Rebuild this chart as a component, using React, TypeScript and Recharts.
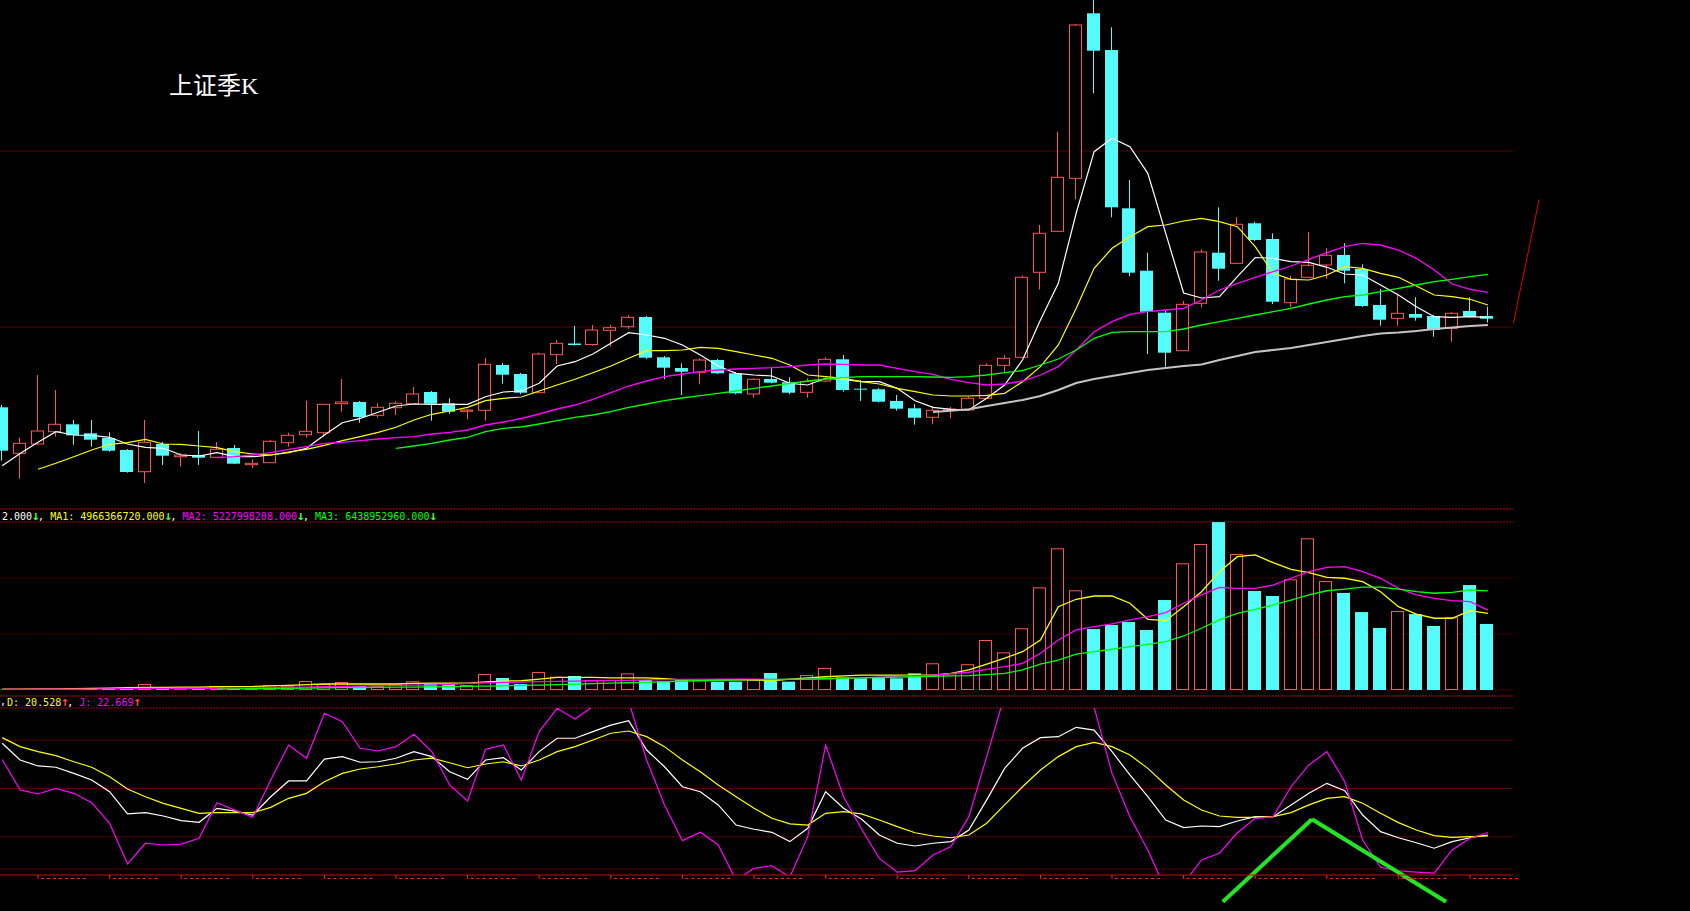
import React from 'react';
import { ComposedChart, Bar, Line, XAxis, YAxis, ReferenceLine, CartesianGrid } from 'recharts';

// quarterly candles, index points
const open = [
  957, 497, 590, 713, 787, 697, 650, 530, 313, 590,
  463, 480, 457, 550, 383, 403, 603, 683, 703, 993,
  1010, 877, 953, 993, 1110, 997, 917, 927, 1380, 1290,
  1103, 1483, 1595, 1585, 1727, 1763, 1860, 1457, 1350, 1307,
  1430, 1297, 1090, 1240, 1207, 1107, 1220, 1437, 1143, 1137,
  1020, 947, 857, 927, 930, 1047, 1377, 1457, 2307, 2717,
  3247, 4897, 4530, 2947, 2323, 1903, 1523, 1997, 2503, 2397,
  2797, 2640, 2003, 2257, 2380, 2480, 2340, 1980, 1847, 1890,
  1870, 1747, 1920, 1870,
];
const high = [
  980, 653, 1280, 1130, 830, 830, 707, 540, 830, 610,
  497, 720, 610, 580, 437, 630, 703, 1023, 990, 1240,
  1020, 997, 1020, 1160, 1120, 1047, 940, 1450, 1400, 1300,
  1503, 1630, 1770, 1780, 1780, 1880, 1870, 1470, 1397, 1447,
  1440, 1310, 1247, 1357, 1257, 1247, 1457, 1480, 1230, 1150,
  1080, 990, 970, 960, 1063, 1397, 1480, 2273, 2780, 3713,
  4790, 5030, 4757, 3230, 2503, 1920, 2020, 2537, 2957, 2857,
  2813, 2697, 2273, 2710, 2547, 2597, 2387, 2140, 2097, 2057,
  1880, 1910, 2057, 1963,
];
const low = [
  423, 243, 580, 663, 583, 563, 513, 303, 200, 380,
  363, 380, 450, 390, 350, 400, 563, 653, 663, 913,
  803, 853, 880, 990, 823, 893, 837, 823, 1193, 1087,
  1100, 1390, 1575, 1573, 1565, 1740, 1440, 1237, 1080, 1187,
  1290, 1087, 1053, 1197, 1087, 1053, 1210, 1113, 1020, 1005,
  923, 783, 787, 847, 925, 1040, 1297, 1450, 2137, 2710,
  3037, 4097, 2857, 2267, 1490, 1363, 1520, 1957, 2223, 2390,
  2620, 1990, 1957, 2250, 2243, 2197, 1960, 1773, 1773, 1823,
  1663, 1613, 1855, 1803,
];
const close = [
  523, 597, 720, 787, 677, 633, 523, 310, 607, 473,
  480, 453, 537, 393, 397, 617, 677, 717, 987, 1010,
  860, 957, 997, 1090, 993, 913, 930, 1387, 1283, 1103,
  1490, 1597, 1580, 1730, 1753, 1857, 1453, 1353, 1313, 1430,
  1297, 1097, 1237, 1203, 1103, 1213, 1437, 1130, 1133, 1013,
  943, 853, 927, 940, 1047, 1377, 1447, 2257, 2697, 3257,
  4780, 4523, 2957, 2303, 1913, 1503, 1987, 2510, 2343, 2787,
  2630, 2013, 2240, 2377, 2477, 2323, 1970, 1833, 1897, 1853,
  1730, 1897, 1863, 1843,
];

const lead = (n: number, values: number[]) => [...Array(n).fill(null), ...values];

const ma5 = [
  373, 495, 607, 713, 680, 677, 657, 590, 557, 547,
  480, 470, 503, 463, 463, 480, 503, 547, 680, 803,
  847, 907, 970, 990, 987, 987, 987, 1063, 1110, 1120,
  1197, 1370, 1413, 1490, 1597, 1703, 1680, 1647, 1580, 1480,
  1370, 1297, 1280, 1270, 1197, 1180, 1247, 1237, 1213, 1213,
  1147, 1023, 957, 937, 930, 1047, 1180, 1430, 1830, 2197,
  2900, 3513, 3647, 3563, 3297, 2697, 2100, 2050, 2063, 2263,
  2455, 2447, 2413, 2407, 2357, 2290, 2280, 2180, 2080, 1963,
  1863, 1857, 1863, 1857,
];
const ma10 = lead(2, [
  337, 397, 463, 530, 587, 603, 637, 590,
  587, 570, 553, 513, 490, 480, 510, 537, 577, 623,
  663, 707, 757, 830, 887, 920, 957, 1023, 1047, 1060,
  1120, 1180, 1237, 1303, 1370, 1447, 1523, 1523, 1530, 1557,
  1547, 1513, 1480, 1447, 1380, 1280, 1263, 1247, 1213, 1190,
  1147, 1113, 1080, 1070, 1070, 1077, 1097, 1213, 1363, 1580,
  1947, 2347, 2547, 2663, 2763, 2780, 2820, 2847, 2813, 2763,
  2563, 2297, 2237, 2230, 2280, 2363, 2347, 2297, 2257, 2170,
  2080, 2063, 2037, 1980,
]);
const ma20 = lead(12, [
  453, 463, 480, 503, 537, 563, 597, 607,
  623, 640, 653, 663, 690, 707, 730, 780, 810, 845,
  890, 940, 980, 1037, 1103, 1170, 1220, 1263, 1290, 1313,
  1330, 1340, 1347, 1353, 1363, 1380, 1390, 1387, 1380, 1380,
  1347, 1313, 1287, 1237, 1203, 1180, 1190, 1220, 1280, 1363,
  1530, 1713, 1813, 1887, 1913, 1930, 1947, 2030, 2130, 2197,
  2257, 2313, 2370, 2437, 2503, 2563, 2597, 2580, 2530, 2447,
  2330, 2190, 2137, 2107,
]);
const ma30 = lead(22, [
  547, 570, 597, 630, 657, 713, 747, 760,
  790, 823, 857, 880, 913, 957, 990, 1023, 1050, 1073,
  1097, 1120, 1147, 1170, 1197, 1220, 1240, 1253, 1263, 1263,
  1263, 1263, 1260, 1257, 1263, 1280, 1303, 1325, 1380, 1440,
  1530, 1647, 1707, 1713, 1713, 1713, 1740, 1780, 1813, 1847,
  1880, 1913, 1947, 1990, 2030, 2063, 2080, 2113, 2147, 2180,
  2213, 2237, 2263, 2287,
]);
const ma60 = lead(52, [
  910, 923, 937, 970, 1000, 1030, 1070, 1130,
  1200, 1240, 1270, 1300, 1330, 1350, 1370, 1385, 1430, 1470,
  1510, 1530, 1550, 1580, 1610, 1640, 1670, 1695, 1705, 1720,
  1740, 1755, 1770, 1780,
]);

// volume, 亿股
const volume = [
  0.2, 0.3, 0.3, 0.2, 0.4, 1.1, 1.1, 1.1, 3.9, 0.5,
  0.5, 0.5, 2.6, 0.6, 0.6, 3.2, 2.8, 5.8, 3.9, 5.2,
  2.6, 2.8, 3.9, 5.6, 3.9, 3.9, 3.2, 10.4, 7.8, 3.9,
  11.7, 8.6, 9.1, 6.5, 6.5, 10.8, 6.5, 5.6, 6.5, 6.5,
  5.4, 5.4, 6.5, 11.0, 5.4, 9.7, 14.3, 8.2, 7.6, 8.0,
  7.6, 10.8, 17.3, 10.8, 16.7, 32.4, 24.4, 40.0, 66.5, 91.8,
  64.6, 39.5, 42.1, 44.1, 38.9, 58.3, 82.1, 94.6, 108.8, 88.1,
  64.2, 60.9, 71.7, 98.3, 70.6, 62.9, 50.5, 40.2, 51.2, 49.2,
  41.5, 47.1, 68.0, 42.8,
];
const volMa1 = [
  0.6, 0.6, 0.7, 0.7, 0.8, 1.0, 1.2, 1.5, 1.7, 1.7,
  1.8, 1.9, 2.1, 2.2, 2.3, 2.7, 3.0, 3.5, 3.9, 3.9,
  3.9, 3.9, 3.9, 4.3, 4.4, 4.5, 4.5, 5.2, 5.8, 6.0,
  7.1, 8.2, 8.2, 8.2, 7.8, 7.8, 7.8, 7.3, 6.5, 6.5,
  6.5, 6.5, 6.5, 6.0, 7.0, 7.9, 8.6, 9.2, 9.7, 9.7,
  9.7, 9.7, 9.7, 10.8, 13.0, 16.8, 20.7, 24.8, 32.4, 54.0,
  58.8, 60.9, 60.9, 56.2, 45.8, 44.9, 54.0, 63.7, 76.7, 86.4,
  87.5, 82.5, 78.2, 76.0, 73.0, 72.4, 70.2, 63.7, 54.0, 49.2,
  46.5, 46.5, 51.4, 49.7,
];
const volMa2 = [
  0.4, 0.4, 0.5, 0.5, 0.5, 0.6, 0.7, 0.8, 1.0, 1.0,
  1.0, 1.1, 1.1, 1.2, 1.3, 1.5, 1.7, 1.9, 2.1, 2.3,
  2.5, 2.8, 3.0, 3.1, 3.2, 3.6, 4.3, 4.6, 4.9, 5.1,
  5.4, 5.6, 5.8, 6.0, 6.2, 6.3, 6.5, 6.7, 6.8, 6.9,
  7.1, 7.0, 7.0, 6.9, 6.9, 6.9, 7.2, 7.6, 7.8, 8.3,
  8.8, 9.3, 9.7, 10.6, 11.5, 13.3, 15.1, 17.3, 23.8, 32.4,
  38.9, 41.0, 42.8, 45.4, 47.5, 50.1, 56.2, 61.6, 66.5, 65.9,
  65.9, 68.0, 72.4, 76.7, 79.5, 79.9, 76.7, 72.4, 65.9, 61.6,
  59.4, 57.9, 57.2, 51.8,
];
const volMa3 = lead(12, [
  0.6, 0.7, 0.8, 0.9, 1.1, 1.2, 1.4, 1.5, 1.6, 1.7,
  1.8, 1.9, 2.0, 2.1, 2.3, 2.5, 2.7, 3.0, 3.2, 3.5,
  3.8, 4.1, 4.4, 4.7, 5.0, 5.4, 5.7, 6.0, 6.3, 6.5,
  6.7, 6.8, 6.9, 7.1, 7.3, 7.6, 7.9, 8.1, 8.4, 8.6,
  8.9, 9.1, 9.3, 10.0, 10.8, 13.0, 16.8, 19.4, 23.3, 24.8,
  26.4, 28.1, 29.6, 31.3, 35.0, 40.0, 45.4, 49.7, 52.3, 55.1,
  58.3, 61.6, 64.3, 65.3, 66.6, 66.6, 65.3, 63.7, 62.7, 63.3,
  64.8, 64.2,
]);

const kLine = [
  78.1, 67.7, 64.0, 63.2, 59.4, 55.3, 48.0, 34.2, 35.0, 32.9,
  30.0, 29.0, 37.7, 36.0, 33.5, 44.9, 54.7, 54.7, 68.3, 69.8,
  66.3, 66.6, 68.8, 72.9, 69.8, 60.4, 55.7, 67.7, 69.1, 61.5,
  72.9, 81.2, 81.2, 85.3, 89.4, 92.1, 73.9, 63.5, 51.1, 48.0,
  39.8, 27.3, 24.7, 22.8, 17.0, 25.3, 48.0, 37.7, 31.0, 21.1,
  16.0, 14.3, 16.0, 17.0, 24.2, 42.9, 62.5, 75.0, 81.6, 82.2,
  88.0, 86.3, 72.9, 58.4, 44.9, 30.4, 25.7, 26.7, 26.3, 29.8,
  32.5, 32.5, 39.8, 47.0, 53.2, 48.6, 33.5, 23.2, 19.4, 16.3,
  12.9, 17.0, 19.4, 21.1,
];
const dLine = [
  81.6, 76.0, 72.9, 70.4, 66.6, 63.2, 57.3, 49.7, 44.9, 40.8,
  37.7, 34.6, 35.0, 35.0, 35.0, 38.3, 43.9, 47.0, 54.2, 59.4,
  62.1, 63.5, 65.2, 67.7, 68.8, 66.0, 62.9, 65.2, 66.6, 64.0,
  67.7, 72.9, 76.0, 80.1, 84.3, 85.7, 82.2, 76.0, 67.7, 60.4,
  52.2, 44.9, 37.7, 31.5, 28.0, 27.3, 34.6, 35.6, 34.2, 30.4,
  26.3, 22.5, 20.5, 19.4, 21.1, 28.4, 39.8, 51.1, 61.5, 69.8,
  76.0, 78.7, 76.0, 70.8, 62.5, 52.2, 42.9, 36.6, 32.9, 32.1,
  32.1, 32.5, 35.0, 39.8, 43.9, 44.9, 40.8, 34.6, 28.8, 24.2,
  20.7, 19.7, 20.1, 20.5,
];
const jLine = [
  68, 49.1, 46.6, 50.1, 47.0, 41.2, 28.4, 3.1, 16.0, 14.9,
  15.5, 19.1, 41.2, 36.6, 32.1, 55.3, 77.0, 68.8, 96.7, 91.5,
  75.0, 73.3, 76.0, 83.7, 72.9, 52.2, 42.2, 74.3, 77.0, 55.3,
  85.3, 99.8, 93.2, 101, 106, 104, 67.7, 39.8, 17.6, 22.8,
  14.9, -7, 0.4, 2.0, -5, 20.1, 77.0, 44.9, 25, 6.6,
  -2, -1, 8.7, 13.9, 32.5, 69.8, 108, 123, 122, 107,
  112, 100.5, 59.4, 32.5, 11.8, -13, -9, 5.6, 9.8, 22.5,
  31.5, 32.5, 51.1, 64.6, 72.9, 54.2, 18.0, 1.1, -1.1, -2.0,
  -2.5, 11.8, 19.1, 22.7,
];

const yearTicks = [2, 6, 10, 14, 18, 22, 26, 30, 34, 38, 42, 46, 50, 54, 58, 62, 66, 70, 74, 78, 82];

const rows = open.map((o, i) => ({
  i,
  open: o,
  high: high[i],
  low: low[i],
  close: close[i],
  ma5: ma5[i],
  ma10: ma10[i],
  ma20: ma20[i],
  ma30: ma30[i],
  ma60: ma60[i],
  vol: volume[i],
  vma1: volMa1[i],
  vma2: volMa2[i],
  vma3: volMa3[i],
  k: kLine[i],
  d: dLine[i],
  j: jLine[i],
}));

const RED = '#ff5454';
const CYAN = '#54fcfc';
const GRID = '#5a0000';
const SEP = '#d00000';
const X_DOMAIN: [number, number] = [-0.123, 84.4];
const W = 1545;
const RIGHT = 32;

const Candle = (props: any) => {
  const { x, y, width, height, payload } = props;
  if (x == null || !payload) return null;
  const { open: o, close: c, high: h, low: l } = payload;
  const top = Math.min(y, y + height);
  const span = Math.abs(height);
  const toY = (v: number) => (h === l ? top : top + ((h - v) / (h - l)) * span);
  const up = c > o;
  const cx = Math.floor(x + width / 2) + 0.5;
  const bodyTop = Math.min(toY(o), toY(c));
  const bodyH = Math.max(Math.abs(toY(o) - toY(c)), 1);
  if (up) {
    return (
      <g>
        <line x1={cx} x2={cx} y1={top} y2={bodyTop} stroke={RED} />
        <line x1={cx} x2={cx} y1={bodyTop + bodyH} y2={top + span} stroke={RED} />
        <rect x={Math.floor(x) + 0.5} y={bodyTop} width={Math.round(width) - 1} height={bodyH} fill="#000" stroke={RED} />
      </g>
    );
  }
  return (
    <g>
      <line x1={cx} x2={cx} y1={top} y2={top + span} stroke={CYAN} />
      <rect x={Math.floor(x)} y={bodyTop} width={Math.round(width)} height={bodyH} fill={CYAN} />
    </g>
  );
};

const VolBar = (props: any) => {
  const { x, y, width, height, payload } = props;
  if (x == null || !payload) return null;
  if (payload.close > payload.open) {
    return <rect x={Math.floor(x) + 0.5} y={y + 0.5} width={Math.round(width) - 1} height={Math.max(height - 1, 0.5)} fill="#000" stroke={RED} />;
  }
  return <rect x={Math.floor(x)} y={y} width={Math.round(width)} height={height} fill={CYAN} />;
};

const AxisTick = (props: any) => {
  const { x, y } = props;
  return (
    <g>
      <line x1={x} x2={x} y1={y} y2={y + 4} stroke="#ff2020" />
      <line x1={x + 3} x2={x + 50} y1={y + 3.5} y2={y + 3.5} stroke="#ff2020" strokeDasharray="3 3" />
    </g>
  );
};

const mono: React.CSSProperties = {
  position: 'absolute',
  fontFamily: '"DejaVu Sans Mono", monospace',
  fontSize: 10,
  lineHeight: '12px',
  whiteSpace: 'pre',
};

// arrows in the header are drawn taller than the digits
const Arrow = ({ ch, color }: { ch: string; color: string }) => (
  <span style={{ color, display: 'inline-block', width: 6, fontSize: 13, lineHeight: '12px', textAlign: 'center', fontWeight: 'bold' }}>{ch}</span>
);

const line = (key: string, color: string, width: number) => (
  <Line dataKey={key} stroke={color} strokeWidth={width} dot={false} activeDot={false} isAnimationActive={false} />
);

const App = () => {
  return (
    <div style={{ position: 'absolute', left: 0, top: 0, width: 1690, height: 911, background: '#000', overflow: 'hidden' }}>
      {/* price panel */}
      <div style={{ position: 'absolute', left: 0, top: 0 }}>
        <ComposedChart width={W} height={510} data={rows} margin={{ top: 0, right: RIGHT, bottom: 7, left: 0 }}>
          <XAxis dataKey="i" type="number" domain={X_DOMAIN} allowDataOverflow hide />
          <YAxis domain={[0, 5030]} allowDataOverflow hide />
          <CartesianGrid vertical={false} horizontalValues={[0, 1760, 3520]} stroke={GRID} />
          <ReferenceLine y={-60} stroke={SEP} strokeDasharray="2 1" ifOverflow="visible" />
          <Bar dataKey={(d: any) => [d.low, d.high]} barSize={13} shape={(p: any) => <Candle {...p} />} isAnimationActive={false} />
          {line('ma5', '#ffffff', 1.2)}
          {line('ma10', '#ffff00', 1.2)}
          {line('ma20', '#ff00ff', 1.3)}
          {line('ma30', '#00ff00', 1.3)}
          {line('ma60', '#c4c4c4', 2)}
          <ReferenceLine segment={[{ x: 84.42, y: 1797 }, { x: 85.86, y: 3036 }]} stroke="#e00000" ifOverflow="visible" />
        </ComposedChart>
      </div>

      {/* volume panel */}
      <div style={{ position: 'absolute', left: 0, top: 509 }}>
        <ComposedChart width={W} height={186} data={rows} margin={{ top: 13, right: RIGHT, bottom: 5, left: 0 }}>
          <XAxis dataKey="i" type="number" domain={X_DOMAIN} allowDataOverflow hide />
          <YAxis domain={[0, 108.86]} allowDataOverflow hide />
          <CartesianGrid vertical={false} horizontalValues={[36.29, 72.57]} stroke={GRID} strokeDasharray="2 1" />
          <CartesianGrid vertical={false} horizontalValues={[108.86]} stroke="#a00000" strokeDasharray="2 1" />
          <CartesianGrid vertical={false} horizontalValues={[0]} stroke="#400000" />
          <Bar dataKey="vol" barSize={13} shape={(p: any) => <VolBar {...p} />} isAnimationActive={false} />
          {line('vma1', '#ffff00', 1.3)}
          {line('vma2', '#ff00ff', 1.3)}
          {line('vma3', '#00ff00', 1.3)}
        </ComposedChart>
      </div>

      {/* KDJ panel */}
      <div style={{ position: 'absolute', left: 0, top: 690 }}>
        <ComposedChart width={W} height={221} data={rows} margin={{ top: 18, right: RIGHT, bottom: 6, left: 0 }}>
          <XAxis
            dataKey="i"
            type="number"
            domain={X_DOMAIN}
            allowDataOverflow
            ticks={yearTicks}
            interval={0}
            tickLine={false}
            tickSize={0}
            tickMargin={0}
            height={30}
            axisLine={{ stroke: SEP }}
            tick={<AxisTick />}
          />
          <YAxis domain={[-3.73, 100]} allowDataOverflow hide />
          <CartesianGrid vertical={false} horizontalValues={[0, 20, 50, 80]} stroke={GRID} />
          <CartesianGrid vertical={false} horizontalValues={[100]} stroke="#a00000" strokeDasharray="2 1" />
          <ReferenceLine y={107.45} stroke={SEP} strokeDasharray="2 1" ifOverflow="visible" />
          {line('k', '#ffffff', 1.2)}
          {line('d', '#ffff00', 1.2)}
          {line('j', '#ff00ff', 1.2)}
          <ReferenceLine segment={[{ x: 68.19, y: -20.3 }, { x: 73.17, y: 30.9 }]} stroke="#22e622" strokeWidth={4} ifOverflow="visible" />
          <ReferenceLine segment={[{ x: 73.17, y: 30.9 }, { x: 80.66, y: -20.3 }]} stroke="#22e622" strokeWidth={4} ifOverflow="visible" />
        </ComposedChart>
      </div>

      <div style={{ position: 'absolute', left: 169, top: 74, color: '#fff', fontSize: 24, lineHeight: '24px', fontFamily: '"Liberation Serif", "Noto Sans CJK SC", serif' }}>
        上证季K
      </div>

      <div style={{ ...mono, left: 2, top: 510 }}>
        <span style={{ color: '#fff' }}>2.000</span>
        <Arrow ch="↓" color="#40ff40" />
        <span style={{ color: '#fff' }}>, </span>
        <span style={{ color: '#ffff00' }}>MA1: 4966366720.000</span>
        <Arrow ch="↓" color="#40ff40" />
        <span style={{ color: '#fff' }}>, </span>
        <span style={{ color: '#ff00ff' }}>MA2: 5227998208.000</span>
        <Arrow ch="↓" color="#40ff40" />
        <span style={{ color: '#fff' }}>, </span>
        <span style={{ color: '#00ff00' }}>MA3: 6438952960.000</span>
        <Arrow ch="↓" color="#40ff40" />
      </div>

      <div style={{ ...mono, left: 0, top: 696, color: '#fff' }}>,</div>
      <div style={{ ...mono, left: 7, top: 696 }}>
        <span style={{ color: '#ffff00' }}>D: 20.528</span>
        <Arrow ch="↑" color="#ff4040" />
        <span style={{ color: '#fff' }}>, </span>
        <span style={{ color: '#ff00ff' }}>J: 22.669</span>
        <Arrow ch="↑" color="#ff4040" />
      </div>
    </div>
  );
};

export default App;
